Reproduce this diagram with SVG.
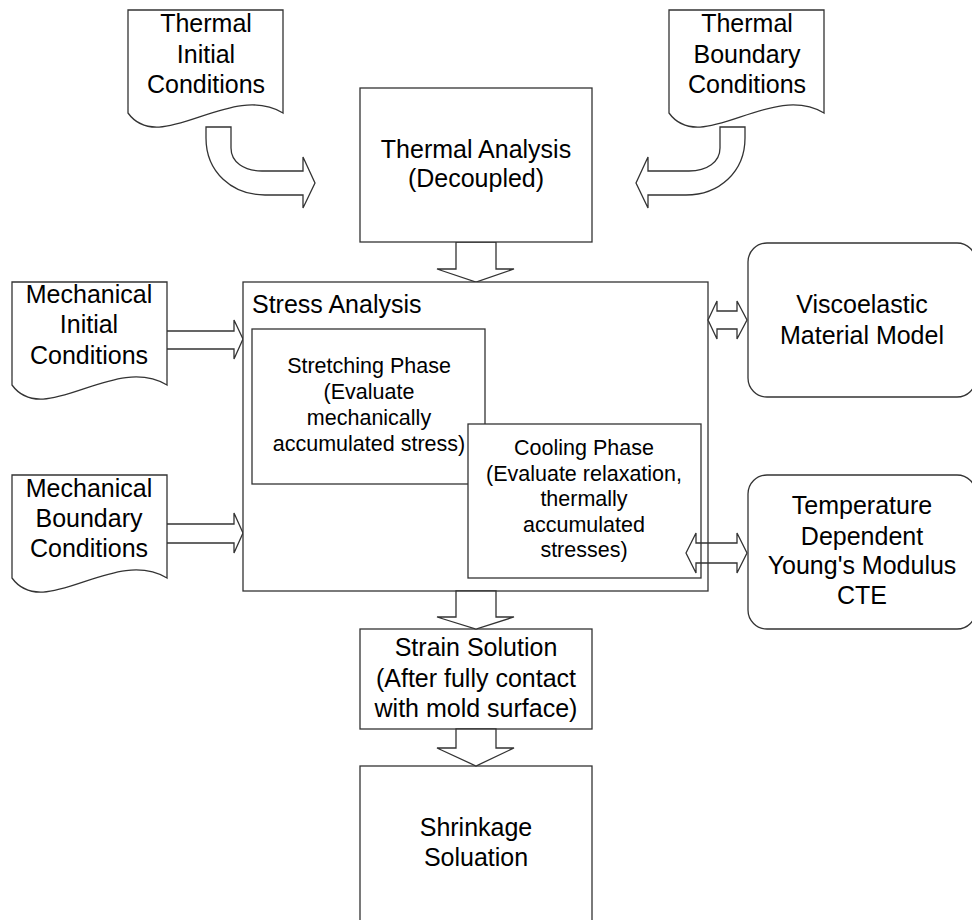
<svg xmlns="http://www.w3.org/2000/svg" width="972" height="920" viewBox="0 0 972 920">
<defs>
<style>
.s{fill:#fff;stroke:#333;stroke-width:1.3}
.o{fill:none;stroke:#333;stroke-width:1.3}
text{font-family:"Liberation Sans",Arial,sans-serif;fill:#000;font-size:25px;text-anchor:middle}
.sm{font-size:21.5px}
</style>
<path id="doc" d="M0,0 H155 V103 C102,71 32,147 0,103 Z"/>
<path id="curv" d="M206,127 L206,138 C206,172 232,195 265,195 L303,195 L303,208 L315,183 L303,157 L303,171 L262,171 C244,171 231,162 231,148 L231,127 Z"/>
</defs>
<rect width="972" height="920" fill="#fff"/>
<g id="connectors">
<use href="#curv" class="s"/>
<use href="#curv" class="s" transform="translate(951,0) scale(-1,1)"/>
<path class="s" d="M456,242 V269 H437 L476,282 L514,269 H496 V242 Z"/>
<path class="s" d="M166,331 H234 V320 L243,339 L234,359 V349 H166 Z"/>
<path class="s" d="M166,524 H234 V513 L243,533 L234,553 V543 H166 Z"/>
</g>
<g id="thermal-initial">
<use href="#doc" class="s" transform="translate(128,10)"/>
<text x="206" y="32">Thermal</text><text x="206" y="63">Initial</text><text x="206" y="93">Conditions</text>
</g>
<g id="thermal-boundary">
<use href="#doc" class="s" transform="translate(669,10)"/>
<text x="747" y="32">Thermal</text><text x="747" y="63">Boundary</text><text x="747" y="93">Conditions</text>
</g>
<g id="thermal-analysis">
<rect class="s" x="360" y="88" width="232" height="154"/>
<text x="476" y="158">Thermal Analysis</text><text x="476" y="187">(Decoupled)</text>
</g>
<g id="mech-initial">
<use href="#doc" class="s" transform="translate(12,282)"/>
<text x="89" y="303">Mechanical</text><text x="89" y="333">Initial</text><text x="89" y="364">Conditions</text>
</g>
<g id="mech-boundary">
<use href="#doc" class="s" transform="translate(12,475)"/>
<text x="89" y="497">Mechanical</text><text x="89" y="527">Boundary</text><text x="89" y="557">Conditions</text>
</g>
<g id="stress-analysis">
<rect class="s" x="243" y="282" width="465" height="309"/>
<text x="252" y="313" style="text-anchor:start">Stress Analysis</text>
</g>
<g id="stretching">
<rect class="s" x="252" y="329" width="233" height="155"/>
<text class="sm" x="369" y="373">Stretching Phase</text><text class="sm" x="369" y="399">(Evaluate</text><text class="sm" x="369" y="425">mechanically</text><text class="sm" x="369" y="451">accumulated stress)</text>
</g>
<g id="cooling">
<rect class="s" x="468" y="424" width="233" height="154"/>
<text class="sm" x="584" y="455">Cooling Phase</text><text class="sm" x="584" y="481">(Evaluate relaxation,</text><text class="sm" x="584" y="506">thermally</text><text class="sm" x="584" y="532">accumulated</text><text class="sm" x="584" y="557">stresses)</text>
</g>
<g id="viscoelastic">
<rect class="s" x="748" y="243" width="228" height="154" rx="19"/>
<text x="862" y="313">Viscoelastic</text><text x="862" y="344">Material Model</text>
</g>
<g id="temperature">
<rect class="s" x="748" y="475" width="228" height="154" rx="19"/>
<text x="862" y="514">Temperature</text><text x="862" y="545">Dependent</text><text x="862" y="574">Young's Modulus</text><text x="862" y="604">CTE</text>
</g>
<g id="strain">
<rect class="s" x="360" y="629" width="232" height="100"/>
<text x="476" y="656">Strain Solution</text><text x="476" y="687">(After fully contact</text><text x="476" y="717">with mold surface)</text>
</g>
<g id="shrinkage">
<rect class="s" x="360" y="766" width="232" height="170"/>
<text x="476" y="836">Shrinkage</text><text x="476" y="866">Soluation</text>
</g>
<g id="connectors2">
<path class="s" d="M708,320 L717,301 L717,311 L737,311 L737,301 L747,320 L737,339 L737,329 L717,329 L717,339 Z"/>
<path class="o" d="M686,553 L696,533 L696,543 L737,543 L737,533 L747,553 L737,573 L737,563 L696,563 L696,573 Z"/>
<path class="s" d="M456,591 V617 H437 L476,629 L514,617 H496 V591 Z"/>
<path class="s" d="M456,729 V748 H437 L476,766 L514,748 H496 V729 Z"/>
</g>
</svg>
